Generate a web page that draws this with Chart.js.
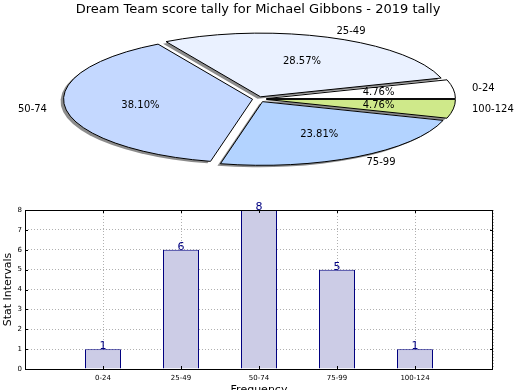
<!DOCTYPE html>
<html>
<head>
<meta charset="utf-8">
<script src="https://cdn.jsdelivr.net/npm/chart.js@4.4.1/dist/chart.umd.min.js"></script>
<style>
    html, body { margin: 0; padding: 0; background: #fff; width: 520px; height: 390px; overflow: hidden; }
    #pieBox { position: absolute; left: 0; top: 0; }
    #barBox { position: absolute; left: 0; top: 195px; }
</style>
</head>
<body>
<div id="pieBox"><canvas id="pie" width="520" height="195"></canvas></div>
<div id="barBox"><canvas id="bar" width="520" height="202"></canvas></div>
<script>
// data
const chartTitle = 'Dream Team score tally for Michael Gibbons - 2019 tally';
const categories = ['0-24', '25-49', '50-74', '75-99', '100-124'];
const counts = [1, 6, 8, 5, 1];
const yTickValues = [0, 1, 2, 3, 4, 5, 6, 7, 8];
const xAxisTitle = 'Frequency';
const yAxisTitle = 'Stat Intervals';

// look
const sliceColors = ['#ffffff', '#eaf1ff', '#c4d8ff', '#b3d3ff', '#cfe98a'];
const sliceExplode = [8.5, 7, 5.5, 9, 8.5];
const pieSquash = 0.337;

Chart.defaults.font.family = '"DejaVu Sans", sans-serif';
Chart.defaults.color = '#000';

const total = counts.reduce(function (a, b) { return a + b; }, 0);

// matplotlib goes counter-clockwise, chart.js clockwise: feed reversed
const pieOrder = categories.map(function (c, i) { return i; }).reverse();

function slicePath(ctx, arc, d, sx, sy) {
    const mid = (arc.startAngle + arc.endAngle) / 2;
    const ox = d * Math.cos(mid);
    const oy = d * Math.sin(mid);
    ctx.save();
    ctx.translate(arc.x + sx, arc.y + sy);
    ctx.scale(1, pieSquash);
    ctx.beginPath();
    ctx.moveTo(ox, oy);
    ctx.arc(ox, oy, arc.outerRadius, arc.startAngle, arc.endAngle);
    ctx.closePath();
    ctx.restore();
}

const ellipsePie = {
    id: 'ellipsePie',
    beforeDatasetDraw: function (chart, args) {
        const ctx = chart.ctx;
        const arcs = args.meta.data;
        const explode = chart.data.datasets[0].explode;

        // shadows under everything
        arcs.forEach(function (arc, i) {
            ctx.save();
            ctx.fillStyle = 'rgba(0,0,0,0.45)';
            slicePath(ctx, arc, explode[i], -3, 2);
            ctx.fill();
            ctx.restore();
        });

        arcs.forEach(function (arc, i) {
            const mid = (arc.startAngle + arc.endAngle) / 2;
            ctx.save();
            ctx.translate(arc.x, arc.y);
            ctx.scale(1, pieSquash);
            ctx.translate(explode[i] * Math.cos(mid) - arc.x, explode[i] * Math.sin(mid) - arc.y);
            arc.draw(ctx);
            ctx.restore();
        });

        arcs.forEach(function (arc, i) {
            ctx.save();
            ctx.strokeStyle = '#000';
            ctx.lineWidth = 1;
            ctx.lineJoin = 'round';
            slicePath(ctx, arc, explode[i], 0, 0);
            ctx.stroke();
            ctx.restore();
        });
        return false;
    },
    afterDatasetsDraw: function (chart) {
        const ctx = chart.ctx;
        const meta = chart.getDatasetMeta(0);
        const ds = chart.data.datasets[0];
        ctx.save();
        ctx.fillStyle = '#000';
        ctx.font = '10px "DejaVu Sans"';
        ctx.textBaseline = 'middle';
        meta.data.forEach(function (arc, i) {
            const mid = (arc.startAngle + arc.endAngle) / 2;
            const ux = Math.cos(mid);
            const uy = Math.sin(mid);
            const d = ds.explode[i];
            const r = arc.outerRadius;

            const ld = d + 1.1 * r;
            ctx.textAlign = ux > 0 ? 'left' : 'right';
            ctx.fillText(chart.data.labels[i], arc.x + ld * ux, arc.y + pieSquash * ld * uy);

            const pd = d + 0.6 * r;
            ctx.textAlign = 'center';
            const pct = (ds.data[i] / total * 100).toFixed(2) + '%';
            ctx.fillText(pct, arc.x + pd * ux, arc.y + pieSquash * pd * uy);
        });
        ctx.restore();
    }
};

new Chart(document.getElementById('pie'), {
    type: 'pie',
    data: {
        labels: pieOrder.map(function (i) { return categories[i]; }),
        datasets: [{
            data: pieOrder.map(function (i) { return counts[i]; }),
            backgroundColor: pieOrder.map(function (i) { return sliceColors[i]; }),
            explode: pieOrder.map(function (i) { return sliceExplode[i]; }),
            borderWidth: 0
        }]
    },
    options: {
        responsive: false,
        animation: false,
        rotation: 90,
        radius: 189,
        layout: { padding: { left: 0, right: 4, top: 0, bottom: 19.6 } },
        plugins: {
            legend: { display: false },
            tooltip: { enabled: false },
            title: {
                display: true,
                text: chartTitle,
                color: '#000',
                font: { size: 13, weight: 'normal' },
                padding: { top: 2, bottom: 5 }
            }
        }
    },
    plugins: [ellipsePie]
});

const barExtras = {
    id: 'barExtras',
    afterDatasetsDraw: function (chart) {
        const ctx = chart.ctx;
        const area = chart.chartArea;
        ctx.save();
        ctx.strokeStyle = '#000';
        ctx.lineWidth = 1;
        ctx.strokeRect(Math.round(area.left) + 0.5, Math.round(area.top) + 0.5,
            Math.round(area.right - area.left) - 1, Math.round(area.bottom - area.top));

        // small inward ticks like matplotlib
        const ys = chart.scales.y;
        const xs = chart.scales.x;
        ctx.beginPath();
        yTickValues.forEach(function (v) {
            const py = Math.round(ys.getPixelForValue(v)) + 0.5;
            ctx.moveTo(area.left, py); ctx.lineTo(area.left + 3, py);
            ctx.moveTo(area.right, py); ctx.lineTo(area.right - 3, py);
        });
        categories.forEach(function (c, i) {
            const px = Math.round(xs.getPixelForValue(i)) + 0.5;
            ctx.moveTo(px, area.bottom); ctx.lineTo(px, area.bottom - 3);
            ctx.moveTo(px, area.top); ctx.lineTo(px, area.top + 3);
        });
        ctx.stroke();

        ctx.fillStyle = '#000080';
        ctx.font = '11px "DejaVu Sans"';
        ctx.textAlign = 'center';
        ctx.textBaseline = 'alphabetic';
        chart.getDatasetMeta(0).data.forEach(function (bar, i) {
            ctx.fillText(String(counts[i]), bar.x, bar.y);
        });
        ctx.restore();
    }
};

new Chart(document.getElementById('bar'), {
    type: 'bar',
    data: {
        datasets: [{
            data: categories.map(function (c, i) { return { x: i, y: counts[i] }; }),
            backgroundColor: '#ccccE6',
            borderColor: '#000080',
            borderWidth: 1,
            barPercentage: 0.4615,
            categoryPercentage: 1
        }]
    },
    options: {
        responsive: false,
        animation: false,
        layout: { padding: { left: 0, right: 27, top: 15, bottom: 0 } },
        plugins: {
            legend: { display: false },
            tooltip: { enabled: false }
        },
        scales: {
            x: {
                type: 'linear',
                min: -1,
                max: 5,
                offset: false,
                afterFit: function (scale) { scale.height = 28; },
                ticks: {
                    stepSize: 1,
                    autoSkip: false,
                    maxRotation: 0,
                    padding: 5,
                    font: { size: 7 },
                    callback: function (value) { return categories[value] || ''; }
                },
                grid: { color: '#b0b0b0', drawTicks: false, offset: false },
                border: { display: false, dash: [1, 2] },
                title: { display: true, text: xAxisTitle, font: { size: 11 }, padding: 0 }
            },
            y: {
                min: 0,
                max: 8,
                afterFit: function (scale) { scale.width = 25; },
                ticks: {
                    stepSize: 1,
                    padding: 3,
                    font: { size: 7 }
                },
                grid: { color: '#b0b0b0', drawTicks: false },
                border: { display: false, dash: [1, 2] },
                title: { display: true, text: yAxisTitle, font: { size: 11 }, padding: { top: 2, bottom: 0 } }
            }
        }
    },
    plugins: [barExtras]
});
</script>
</body>
</html>
